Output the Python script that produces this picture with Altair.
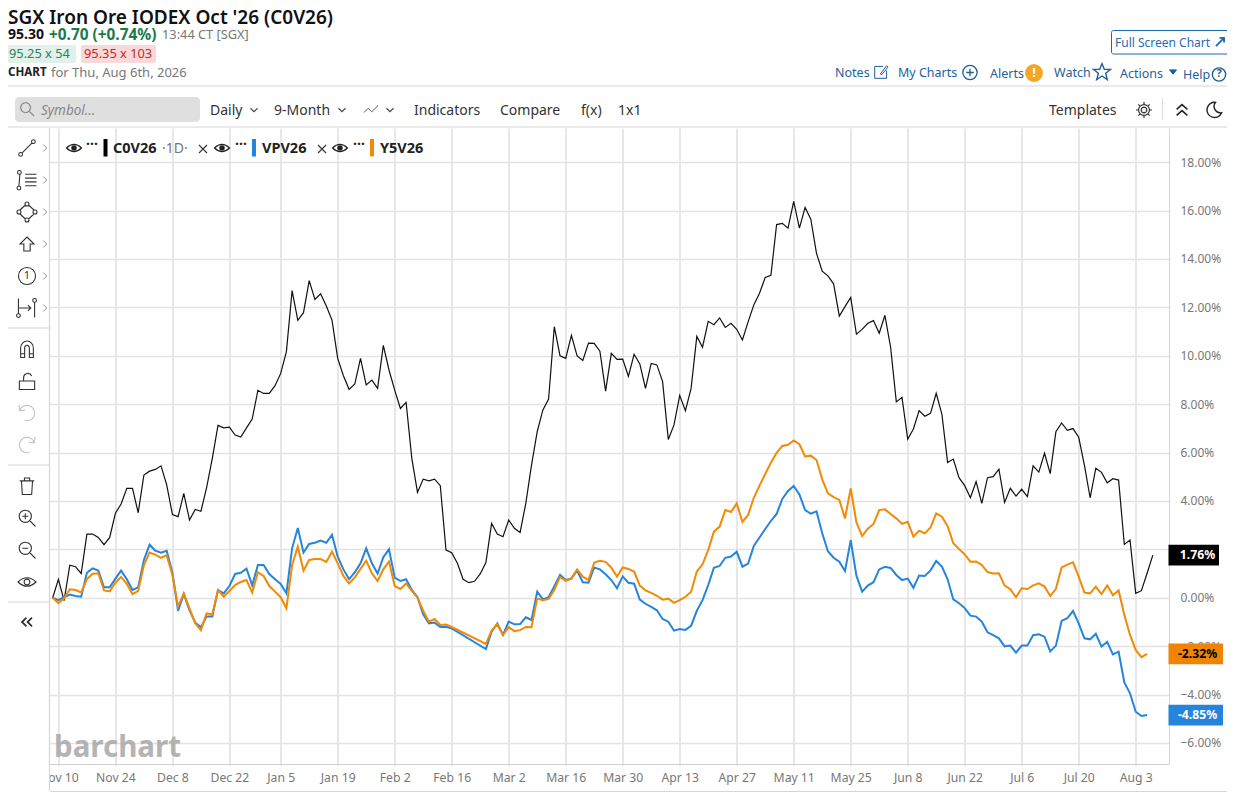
import altair as alt
import pandas as pd

black = [0.00,0.76,-0.12,1.34,1.28,1.00,2.63,2.63,2.49,2.19,
2.49,3.49,3.87,4.52,4.52,3.51,5.07,5.23,5.30,5.45,
4.66,3.44,3.35,4.31,3.21,3.65,3.57,4.55,5.76,7.12,
7.02,7.05,6.72,6.64,7.02,7.38,8.57,8.44,8.44,8.76,
9.27,10.17,12.69,11.46,11.78,13.10,12.33,12.56,12.05,11.47,
9.89,9.17,8.61,8.83,9.89,8.79,8.99,8.65,10.43,9.41,
8.58,7.82,8.07,5.76,4.35,4.90,4.83,4.90,4.63,1.97,
1.86,1.42,0.76,0.62,0.68,0.98,1.45,3.07,2.63,2.52,
3.21,2.87,2.70,3.90,5.48,6.86,7.76,8.21,11.20,10.00,
9.89,10.84,9.99,9.80,10.52,10.51,10.19,8.54,10.10,9.85,
9.86,9.15,10.06,9.66,8.65,9.68,9.62,8.93,6.54,7.14,
8.36,7.73,8.65,10.80,10.35,11.42,11.28,11.56,11.17,11.34,
11.09,10.65,11.40,12.10,12.58,13.23,13.32,15.42,15.47,15.27,
16.38,15.27,16.13,15.64,14.23,13.49,13.30,12.97,11.64,12.03,
12.41,10.89,11.09,11.34,11.45,10.93,11.67,10.35,8.09,8.28,
6.55,6.97,7.73,7.50,7.62,8.45,7.58,5.59,5.73,4.96,
4.63,4.13,4.80,3.90,4.96,5.00,5.31,3.94,4.52,4.20,
4.48,4.18,5.45,5.19,5.97,5.13,6.86,7.22,6.92,6.99,
6.63,5.48,4.13,5.35,5.18,4.75,4.92,4.86,2.20,2.38,
0.18,0.29,1.01,1.76]

blue = [0.00,-0.10,0.02,0.13,0.07,0.04,1.03,1.21,1.12,0.43,
0.43,0.79,1.12,0.76,0.32,0.43,1.56,2.19,1.94,1.86,
1.94,1.03,-0.54,0.15,-0.51,-1.03,-1.22,-0.78,-0.78,0.32,
0.18,0.48,0.98,1.03,1.20,0.51,1.35,1.35,0.98,0.76,
0.57,0.18,2.04,2.88,1.87,2.22,2.27,2.36,2.27,2.60,
1.70,1.17,0.77,1.05,1.42,2.04,1.42,1.00,1.67,2.00,
0.83,0.69,0.76,0.32,0.02,-0.69,-1.06,-1.03,-1.21,-1.20,
-1.27,None,None,None,None,None,-2.12,-1.40,-1.06,-1.54,
-0.99,-1.10,-1.09,-0.81,-0.92,0.25,-0.07,0.02,0.48,0.94,
0.73,0.80,1.12,0.64,0.62,1.25,1.17,0.97,0.73,0.39,
0.88,0.62,0.58,-0.08,-0.25,-0.38,-0.52,-0.88,-0.99,-1.36,
-1.29,-1.33,-1.16,-0.54,-0.10,0.52,1.24,1.31,1.65,1.70,
1.90,1.28,1.41,2.14,2.49,2.84,3.17,3.46,4.08,4.41,
4.62,4.27,3.62,3.47,3.57,2.66,1.92,1.65,1.49,1.10,
2.38,0.91,0.25,0.50,0.64,1.17,1.28,1.23,0.94,0.73,
0.79,0.41,0.92,0.90,1.13,1.52,1.29,0.76,-0.07,-0.23,
-0.43,-0.74,-0.78,-0.99,-1.43,-1.55,-1.68,-2.01,-1.98,-2.27,
-1.98,-1.98,-1.55,-1.51,-1.61,-2.22,-1.98,-0.96,-0.85,-0.55,
-1.06,-1.68,-1.72,-1.49,-2.02,-1.82,-2.34,-2.23,-3.50,-3.95,
-4.71,-4.89,-4.85]

orange = [0.00,-0.23,-0.03,0.35,0.32,0.22,0.77,0.99,1.01,0.30,
0.26,0.62,0.86,0.57,0.15,0.28,1.35,1.87,1.78,1.65,
1.75,0.94,-0.37,0.18,-0.44,-1.06,-1.34,-0.65,-0.69,0.32,
0.04,0.28,0.52,0.65,0.73,0.21,1.05,0.90,0.48,0.25,
0.02,-0.44,1.35,2.11,1.12,1.56,1.60,1.60,1.48,1.90,
1.42,0.90,0.59,0.84,1.19,1.53,1.01,0.69,1.17,1.49,
0.48,0.36,0.59,0.28,0.00,-0.54,-0.99,-0.88,-1.13,-1.11,
-1.21,None,None,None,None,None,-1.91,-1.36,-1.10,-1.54,
-1.22,-1.38,-1.34,-1.21,-1.22,-0.03,-0.10,-0.05,0.32,0.86,
0.70,0.79,1.17,0.87,0.73,1.45,1.53,1.48,1.24,0.87,
1.25,1.19,1.08,0.50,0.30,0.20,0.08,-0.08,-0.04,-0.21,
-0.10,0.04,0.25,1.08,1.38,1.97,2.73,2.94,3.62,3.54,
3.90,3.13,3.42,4.13,4.63,5.11,5.58,5.99,6.27,6.32,
6.50,6.34,5.84,5.87,5.69,4.89,4.31,4.16,4.04,3.28,
4.52,3.11,2.55,2.85,3.05,3.62,3.65,3.46,3.28,3.05,
3.14,2.52,2.77,2.66,2.90,3.48,3.35,2.96,2.25,2.01,
1.79,1.49,1.50,1.35,1.06,1.00,1.01,0.50,0.35,0.02,
0.39,0.36,0.51,0.59,0.46,0.07,0.37,1.25,1.37,1.46,
0.87,0.21,0.18,0.46,0.15,0.51,0.10,0.30,-0.71,-1.54,
-2.16,-2.46,-2.32]

tick_bars = [1,11,21,31,40,50,60,70,80,90,100,110,120,130,140,150,160,170,180,190]
tick_labels = ["Nov 10","Nov 24","Dec 8","Dec 22","Jan 5","Jan 19","Feb 2","Feb 16","Mar 2","Mar 16",
               "Mar 30","Apr 13","Apr 27","May 11","May 25","Jun 8","Jun 22","Jul 6","Jul 20","Aug 3"]
y_ticks = [-6,-4,-2,0,2,4,6,8,10,12,14,16,18]

FONT = "Noto Sans"
BLACK, BLUE, ORANGE = "#111111", "#2585dc", "#f28a05"
LINK = "#1f5f99"
GRID = "#e3e3e3"
PX, PY = 49.5, 128
one = alt.Data(values=[{"a": 1}])

def frame(vals):
    d = pd.DataFrame({"bar": range(len(vals)), "v": vals})
    return d.dropna()

label_expr = "[" + ",".join(f"'{t}'" for t in tick_labels) + "][indexof([" + ",".join(map(str, tick_bars)) + "],datum.value)]"

x_enc = alt.X("bar:Q", scale=alt.Scale(domain=[-0.561, 195.84], nice=False, zero=False), title=None,
              axis=alt.Axis(values=tick_bars, labelExpr=label_expr, grid=True, gridColor=GRID, gridWidth=1.7,
                            tickSize=2, tickColor=GRID, domainColor="#cfcfcf", labelColor="#777777", labelFont=FONT,
                            labelFontSize=12.2, labelPadding=5, labelOverlap=False, labelFlush=False, labelBound=False))
y_enc = alt.Y("v:Q", scale=alt.Scale(domain=[-6.872, 19.41], nice=False, zero=False), title=None,
              axis=alt.Axis(orient="right", values=y_ticks, format=".2f", labelExpr="format(datum.value,'.2f')+'%'",
                            grid=True, gridColor=GRID, gridWidth=1.7, ticks=False, domainColor="#d5d5d5",
                            labelColor="#777777", labelFont=FONT, labelFontSize=12, labelPadding=11, labelOverlap=False))

layers = []
layers.append(alt.Chart(frame(black)).mark_line(color=BLACK, strokeWidth=1.2).encode(x=x_enc, y=y_enc))
layers.append(alt.Chart(frame(blue)).mark_line(color=BLUE, strokeWidth=2).encode(x="bar:Q", y="v:Q"))
layers.append(alt.Chart(frame(orange)).mark_line(color=ORANGE, strokeWidth=2).encode(x="bar:Q", y="v:Q"))

def rect(x0, y0, x1, y1, fill, stroke=None, radius=0, sw=1):
    kw = dict(fill=fill, cornerRadius=radius)
    if stroke:
        kw.update(stroke=stroke, strokeWidth=sw)
    layers.append(alt.Chart(one).mark_rect(**kw).encode(
        x=alt.value(x0-PX), x2=alt.value(x1-PX), y=alt.value(y0-PY), y2=alt.value(y1-PY)))

def rule(x0, y0, x1, y1, color="#d6d6d6", w=1.2):
    layers.append(alt.Chart(one).mark_rule(color=color, strokeWidth=w).encode(
        x=alt.value(x0-PX), x2=alt.value(x1-PX), y=alt.value(y0-PY), y2=alt.value(y1-PY)))

def text(s, x, y, size=13, color="#333333", weight="normal", align="left", style="normal", font=FONT, opacity=1):
    layers.append(alt.Chart(one).mark_text(font=font, fontSize=size, color=color, fontWeight=weight, align=align,
                                           baseline="middle", fontStyle=style, opacity=opacity).encode(
        x=alt.value(x-PX), y=alt.value(y-PY), text=alt.value(s)))

def icon(path, x, y, w, color="#333333", sw=1.2, fill="transparent"):
    layers.append(alt.Chart(one).mark_point(shape=path, size=w*w, stroke=color, strokeWidth=sw, fill=fill,
                                            opacity=1, filled=False).encode(
        x=alt.value(x-PX), y=alt.value(y-PY)))

def circ(cx, cy, r):
    return f"M{cx-r} {cy} a{r} {r} 0 1 0 {2*r} 0 a{r} {r} 0 1 0 {-2*r} 0 "

# cover the clipped part of the first date label, and the left toolbar
rect(0, 128, 49, 792, "#ffffff")
rule(49.5, 128, 49.5, 791)
rule(50, 791.5, 1235, 791.5)

# header
text("SGX Iron Ore IODEX Oct '26 (C0V26)", 8, 17.5, size=19, color="#111111", weight=600)
text("95.30", 8, 35, size=14, color="#111111", weight="bold")
text("+0.70 (+0.74%)", 49, 35, size=15.4, color="#1b7a4b", weight="bold")
text("13:44 CT [SGX]", 162, 35, size=12.8, color="#777777")
rect(5, 45, 76, 63, "#e2f0ea", radius=2)
rect(81, 45, 156, 63, "#f8d8d8", radius=2)
text("95.25 x 54", 9, 54, size=12.8, color="#2e8060")
text("95.35 x 103", 84, 54, size=12.8, color="#cc1f2a")
text("CHART", 8, 73, size=11.6, color="#222222", weight="bold")
text("for Thu, Aug 6th, 2026", 51, 73, size=13, color="#777777")
rule(5, 86, 1235, 86)
rule(5, 127, 1235, 127)

# top right links
rect(1111.5, 30.5, 1240, 54, "#ffffff", stroke="#1b6ab0", radius=2)
text("Full Screen Chart", 1115, 42.5, size=12, color="#2a6cab")
icon("M-0.9 0.9 L0.9 -0.9 M-0.1 -0.9 L0.9 -0.9 L0.9 0.1", 1220, 42, 9, "#1b6ab0", 1.8)
text("Notes", 835, 72.5, size=12.5, color=LINK)
icon("M0.3 -0.8 H-0.9 V0.9 H0.8 V-0.2 M-0.1 0.3 L0.8 -0.9 L1 -0.7 L0.1 0.4 Z", 881, 72, 14, LINK, 1)
text("My Charts", 898, 72.5, size=12.5, color=LINK)
icon(circ(0, 0, 0.95)+"M-0.5 0 H0.5 M0 -0.5 V0.5", 970, 72.5, 15, LINK, 1.3)
text("Alerts", 990, 73.5, size=12.5, color=LINK)
layers.append(alt.Chart(one).mark_point(shape="circle", size=250, fill="#f5a623", stroke="#f5a623", opacity=1, filled=True).encode(
    x=alt.value(1034-PX), y=alt.value(73-PY)))
text("!", 1034, 72.5, size=13, color="#ffffff", weight="bold", align="center")
text("Watch", 1054, 72.5, size=12.5, color=LINK)
icon("M0 -1 L0.27 -0.33 L1 -0.3 L0.43 0.15 L0.62 0.9 L0 0.47 L-0.62 0.9 L-0.43 0.15 L-1 -0.3 L-0.27 -0.33 Z", 1102, 72, 17, LINK, 1.4)
text("Actions", 1120, 73.5, size=12.5, color=LINK)
icon("M-1 -0.6 L1 -0.6 L0 0.6 Z", 1173, 72, 7, LINK, 1, fill=LINK)
text("Help", 1183, 74.5, size=12.5, color=LINK)
icon(circ(0, 0, 0.95), 1219, 74.5, 14, LINK, 1.4)
text("?", 1219, 74, size=11, color=LINK, weight="bold", align="center")

# chart toolbar
rect(15, 97, 200, 122, "#dfdfdf", radius=4)
icon(circ(-0.2, -0.2, 0.7)+"M0.3 0.3 L1 1", 27, 109, 14, "#888888", 1.2)
text("Symbol...", 41, 110.5, size=13.5, color="#888888", style="italic")
CHEV = "M-1 -0.5 L0 0.5 L1 -0.5"
text("Daily", 210, 110.5, size=14)
icon(CHEV, 254, 110, 7, "#444444", 1.1)
text("9-Month", 274, 110.5, size=14)
icon(CHEV, 342, 110, 7, "#444444", 1.1)
icon("M-1 0.5 L-0.4 -0.1 L0.1 0.4 L1 -0.5", 371, 109, 14, "#555555", 1)
icon(CHEV, 390, 110, 7, "#444444", 1.1)
text("Indicators", 414, 110.5, size=14)
text("Compare", 500, 110.5, size=14)
text("f(x)", 581, 110.5, size=14)
text("1x1", 618, 110.5, size=14)
text("Templates", 1049, 110.5, size=14)
icon(circ(0, 0, 0.35)+circ(0, 0, 0.68)+"M0 -1 V-0.68 M0 1 V0.68 M-1 0 H-0.68 M1 0 H0.68 M-0.7 -0.7 L-0.48 -0.48 M0.7 0.7 L0.48 0.48 M-0.7 0.7 L-0.48 0.48 M0.7 -0.7 L0.48 -0.48",
     1144, 110, 16, "#333333", 1.2)
rule(1162.5, 98, 1162.5, 120, "#dddddd", 1)
icon("M-0.9 -0.1 L0 -0.9 L0.9 -0.1 M-0.9 0.9 L0 0.1 L0.9 0.9", 1182, 110, 12, "#222222", 1.5)
icon("M0.2 -0.95 A0.95 0.95 0 1 0 0.95 0.35 A0.8 0.8 0 0 1 0.2 -0.95 Z", 1214, 110, 16, "#222222", 1.4)

# legend row
EYE = "M-1 0 Q0 -0.95 1 0 Q0 0.95 -1 0 Z"
for ex, dx, bx, col, sym, tx, cx in [(74, 92, 105.5, "#000000", "C0V26", 113, 203),
                                     (222, 241, 254, BLUE, "VPV26", 262, 322),
                                     (340, 359, 372, ORANGE, "Y5V26", 380, None)]:
    icon(EYE, ex, 148, 15, "#222222", 1.2)
    layers.append(alt.Chart(one).mark_point(shape="circle", size=30, fill="#222222", opacity=1, filled=True).encode(
        x=alt.value(ex-PX), y=alt.value(148-PY)))
    text("\u00b7\u00b7\u00b7", dx, 145, size=14, color="#222222", weight="bold", align="center")
    rect(bx-2, 139, bx+2, 156.5, col)
    text(sym, tx, 148.5, size=14.5, color="#222222", weight="bold")
    if cx:
        icon("M-1 -1 L1 1 M-1 1 L1 -1", cx, 149, 8, "#333333", 1.1)
text("\u00b71D\u00b7", 162, 148.5, size=14, color="#777777")

# left drawing tools
TOOLS = [
    (circ(-0.75, 0.75, 0.22)+"M-0.6 0.6 L0.6 -0.6 "+circ(0.75, -0.75, 0.22), 148, "#333333", 17),
    (circ(-0.8, -0.8, 0.2)+circ(-0.85, 0.85, 0.2)+"M-0.75 -0.6 L-0.85 0.65 M-0.2 -0.6 H1 M-0.2 -0.2 H1 M-0.2 0.2 H1 M-0.2 0.6 H1", 180, "#333333", 19),
    (circ(0, -0.8, 0.2)+circ(0, 0.8, 0.2)+circ(-0.8, 0, 0.2)+circ(0.8, 0, 0.2)+"M-0.7 -0.2 L-0.15 -0.7 M0.15 -0.7 L0.7 -0.2 M0.7 0.2 L0.15 0.7 M-0.15 0.7 L-0.7 0.2", 212, "#333333", 20),
    ("M0 -1 L1 0 L0.45 0 L0.45 1 L-0.45 1 L-0.45 0 L-1 0 Z", 244, "#333333", 14),
    (circ(0, 0, 0.95), 276, "#333333", 18),
    ("M-0.9 -1 V0.6 "+circ(-0.9, 0.8, 0.2)+"M-0.9 0 H0.4 M0.1 -0.3 L0.4 0 L0.1 0.3 M0.8 -0.6 V1 "+circ(0.8, -0.8, 0.2), 308, "#333333", 19),
    ("M-0.75 1 V-0.1 A0.75 0.85 0 0 1 0.75 -0.1 V1 H0.28 V-0.1 A0.28 0.35 0 0 0 -0.28 -0.1 V1 Z M-0.75 0.55 H-0.28 M0.28 0.55 H0.75", 349, "#333333", 17),
    ("M-0.9 0 H0.9 V1 H-0.9 Z M-0.4 0 V-0.45 A0.5 0.5 0 0 1 0.55 -0.6", 381, "#333333", 17),
    ("M-0.85 -0.3 A0.9 0.9 0 1 1 -0.3 0.85 M-0.95 -0.95 L-0.85 -0.25 L-0.2 -0.35", 413, "#c4c4c4", 17),
    ("M0.85 -0.3 A0.9 0.9 0 1 0 0.3 0.85 M0.95 -0.95 L0.85 -0.25 L0.2 -0.35", 445, "#c4c4c4", 17),
    ("M-0.65 -0.55 L-0.55 1 H0.55 L0.65 -0.55 M-0.85 -0.6 H0.85 M-0.3 -0.6 V-0.95 H0.3 V-0.6", 486, "#333333", 17),
    (circ(-0.2, -0.2, 0.72)+"M0.32 0.32 L1 1 M-0.55 -0.2 H0.15 M-0.2 -0.55 V0.15", 518, "#333333", 17),
    (circ(-0.2, -0.2, 0.72)+"M0.32 0.32 L1 1 M-0.55 -0.2 H0.15", 550, "#333333", 17),
    ("M-1 0 Q0 -0.95 1 0 Q0 0.95 -1 0 Z "+circ(0, 0, 0.32), 582, "#333333", 18),
]
for path, cy, col, w in TOOLS:
    icon(path, 27, cy, w, col, 1.1)
text("1", 27, 276, size=11, color="#333333", align="center")
for cy in (148, 180, 212, 244, 276, 308):
    icon("M-0.5 -1 L0.5 0 L-0.5 1", 45, cy, 7, "#999999", 1)
rule(5, 328, 49, 328)
rule(5, 465, 49, 465)
rule(5, 602, 49, 602)
icon("M-0.1 -0.8 L-0.9 0 L-0.1 0.8 M0.9 -0.8 L0.1 0 L0.9 0.8", 27, 622, 11, "#333333", 1.8)

# watermark
text("barchart", 54, 747.5, size=29.5, color="#a8a8a8", weight="bold", opacity=0.85)

# last-value badges, placed by the value scale
badges = [(1.76, "1.76%", "#000000", "#ffffff", 1219),
          (-2.32, "-2.32%", "#f08400", "#000000", 1223),
          (-4.85, "-4.85%", BLUE, "#ffffff", 1223)]
for v, lab, bg, fg, xr in badges:
    d = pd.DataFrame({"v": [v], "top": [v+0.43], "bot": [v-0.43], "lab": [lab]})
    layers.append(alt.Chart(d).mark_rect(fill=bg).encode(
        x=alt.value(1168.5-PX), x2=alt.value(xr-PX), y="top:Q", y2="bot:Q"))
    layers.append(alt.Chart(d).mark_text(font=FONT, fontSize=12.2, fontWeight="bold", color=fg, align="center", baseline="middle").encode(
        x=alt.value(1197.5-PX), y="v:Q", text="lab:N"))

chart = alt.layer(*layers).properties(
    width=1119.5, height=636,
    autosize=alt.AutoSizeParams(type="none"),
    padding={"left": 41.5, "top": 120, "right": 58, "bottom": 28},
    background="#ffffff",
).configure_view(stroke=None)

chart.save("out.html", embed_options={"renderer": "svg", "actions": False})
